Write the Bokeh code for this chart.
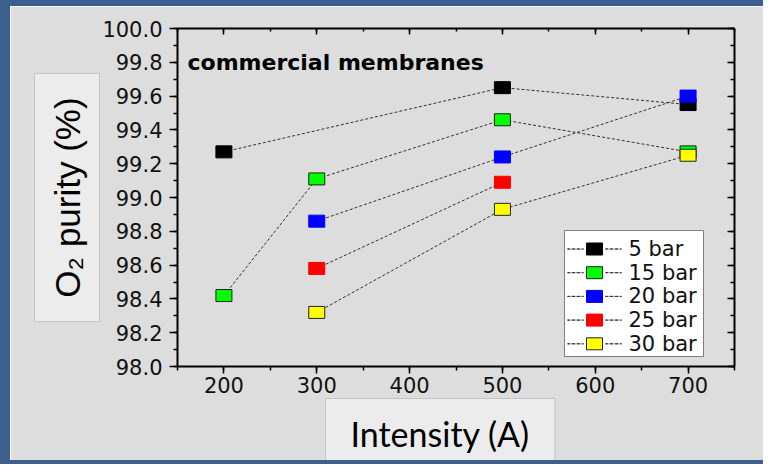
import math
from bokeh.plotting import figure
from bokeh.models import (Range1d, LinearAxis, SingleIntervalTicker, NumeralTickFormatter,
                          CustomJSTickFormatter, BoxAnnotation, Label, Title, ColumnDataSource)
from bokeh.embed import file_html
from bokeh.resources import INLINE

# ---------------- data ----------------
series_names = ["5 bar", "15 bar", "20 bar", "25 bar", "30 bar"]
x_5bar = [200, 500, 700]
y_5bar = [99.27, 99.65, 99.55]
x_15bar = [200, 300, 500, 700]
y_15bar = [98.42, 99.11, 99.46, 99.27]
x_20bar = [300, 500, 700]
y_20bar = [98.86, 99.24, 99.60]
x_25bar = [300, 500]
y_25bar = [98.58, 99.09]
x_30bar = [300, 500, 700]
y_30bar = [98.32, 98.93, 99.25]
xs = [x_5bar, x_15bar, x_20bar, x_25bar, x_30bar]
ys = [y_5bar, y_15bar, y_20bar, y_25bar, y_30bar]

title_text = "commercial membranes"
x_label = "Intensity (A)"
y_label = "O\u2082 purity (%)"

# ---------------- style ----------------
fill_colors = ["#000000", "#00ff00", "#0000ff", "#ff0000", "#ffff00"]
edge_colors = ["#000000", "#222222", "#0000ff", "#ff0000", "#222222"]
BG = "#dddddd"
BORDER = "#3d5f8d"
TICK_FONT = "DejaVu Sans"
# offset of canvas-unit annotations relative to the reference picture
OX, OY = 20, 12

p = figure(width=763, height=464, x_range=Range1d(150, 750), y_range=Range1d(98, 100),
           output_backend="svg", toolbar_location=None,
           min_border_left=164, min_border_right=39, min_border_top=22, min_border_bottom=104,
           background_fill_color=BG, border_fill_color=BG, outline_line_color=None)
p.styles = {"border-left": "10px solid " + BORDER, "border-top": "6px solid " + BORDER,
            "border-bottom": "4px solid " + BORDER}
p.xgrid.visible = False
p.ygrid.visible = False

def style_axis(ax):
    ax.axis_line_color = "black"
    ax.axis_line_width = 2
    ax.major_tick_line_color = "black"
    ax.major_tick_line_width = 1.5
    ax.minor_tick_line_color = "black"
    ax.minor_tick_line_width = 1.5
    ax.major_label_text_font = TICK_FONT
    ax.major_label_text_font_size = "21px"
    ax.major_label_text_color = "#111111"

xb = p.xaxis[0]
xb.ticker = SingleIntervalTicker(interval=100, num_minor_ticks=2)
style_axis(xb)
xb.major_tick_out = 7
xb.major_tick_in = 0
xb.minor_tick_out = 4
xb.minor_tick_in = 0
xb.major_label_standoff = 3

yl = p.yaxis[0]
yl.ticker = SingleIntervalTicker(interval=0.2, num_minor_ticks=2)
yl.formatter = NumeralTickFormatter(format="0.0")
style_axis(yl)
yl.major_tick_out = 8
yl.major_tick_in = 0
yl.minor_tick_out = 4
yl.minor_tick_in = 0
yl.major_label_standoff = 7

blank = CustomJSTickFormatter(code="return ''")
xt = LinearAxis(ticker=SingleIntervalTicker(interval=100, num_minor_ticks=2), formatter=blank)
style_axis(xt)
xt.major_label_text_font_size = "1px"
xt.major_label_standoff = 0
xt.major_tick_in = 6
xt.major_tick_out = 0
xt.minor_tick_in = 3
xt.minor_tick_out = 0
p.add_layout(xt, "above")

yr = LinearAxis(ticker=SingleIntervalTicker(interval=0.2, num_minor_ticks=2), formatter=blank)
style_axis(yr)
yr.major_label_text_font_size = "1px"
yr.major_label_standoff = 0
yr.major_tick_in = 7
yr.major_tick_out = 0
yr.minor_tick_in = 4
yr.minor_tick_out = 0
p.add_layout(yr, "right")

# axis titles in boxes
p.add_layout(Title(text=y_label, align="center", standoff=0,
                   text_font="Liberation Sans", text_font_size="35px", text_font_style="normal",
                   text_color="black", background_fill_color="#ececec",
                   border_line_color="#c4c4c4", border_line_width=1,
                   padding=dict(left=24, right=24, top=13, bottom=13)), "left")
p.add_layout(Title(text=x_label, align="left", offset=148, standoff=2,
                   text_font="Lato", text_font_size="34px", text_font_style="normal",
                   text_color="black", background_fill_color="#ececec",
                   border_line_color="#c4c4c4", border_line_width=1,
                   padding=dict(left=25, right=25, top=14, bottom=14)), "below")

# dotted connecting lines first
for x, y in zip(xs, ys):
    p.line(x=x, y=y, line_color="#333333", line_width=1, line_dash="3 2")

# markers on top
for x, y, fc, ec in zip(xs, ys, fill_colors, edge_colors):
    src = ColumnDataSource(dict(x=x, y=y))
    p.rect(x="x", y="y", width=16, height=12, width_units="screen", height_units="screen",
           source=src, fill_color=fc, line_color=ec, line_width=1)

def cbox(l, t, r, b, fill=None, line=None, lw=1, dash="solid"):
    return BoxAnnotation(left=l - OX, right=r - OX, top=t - OY, bottom=b - OY,
                         left_units="canvas", right_units="canvas",
                         top_units="canvas", bottom_units="canvas",
                         fill_color=fill, fill_alpha=1 if fill else 0,
                         line_color=line, line_alpha=1 if line else 0,
                         line_width=lw, line_dash=dash)

# title inside plot
p.add_layout(Label(x=187 - OX, y=62 - OY, x_units="canvas", y_units="canvas", text=title_text,
                   text_font="DejaVu Sans", text_font_style="bold", text_font_size="22px",
                   text_color="black", text_baseline="alphabetic"))

# legend (manual)
p.add_layout(cbox(564, 230, 703, 356, fill="white", line="#808080", lw=1))
for i, (name, fc, ec) in enumerate(zip(series_names, fill_colors, edge_colors)):
    cy = 248.5 + 23.7 * i
    p.add_layout(cbox(567, cy, 583, cy, line="#333333", lw=1, dash="3 2"))
    p.add_layout(cbox(605, cy, 621, cy, line="#333333", lw=1, dash="3 2"))
    p.add_layout(cbox(586, cy - 6, 602, cy + 6, fill=fc, line=ec, lw=1))
    p.add_layout(Label(x=628 - OX, y=cy - OY, x_units="canvas", y_units="canvas", text=name,
                       text_font="DejaVu Sans", text_font_size="21px", text_color="#111111",
                       text_baseline="middle"))

open("out.html", "w").write(file_html(p, INLINE))
